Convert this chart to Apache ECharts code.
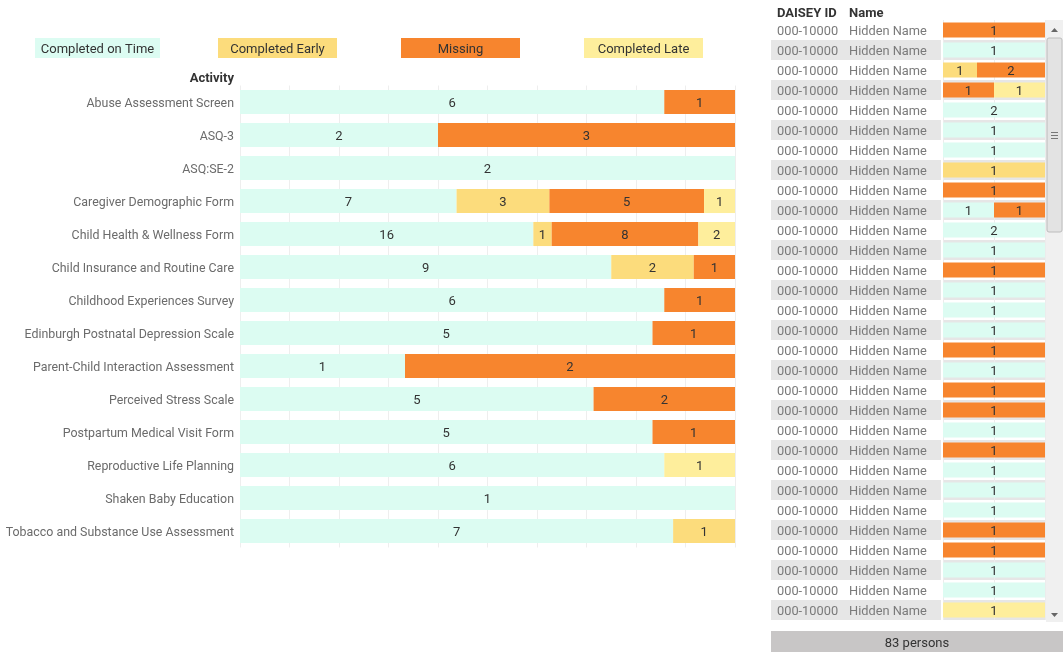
<!DOCTYPE html>
<html>
<head>
<meta charset="utf-8">
<script src="https://cdn.jsdelivr.net/npm/echarts@6/dist/echarts.min.js"></script>
<style>
  html, body { margin: 0; padding: 0; background: #fff; }
  #main { width: 1063px; height: 652px; }
</style>
</head>
<body>
<div id="main"></div>
<script>
// statuses, in stacking order
var statusNames = ['Completed on Time', 'Completed Early', 'Missing', 'Completed Late'];
var statusColors = ['#dcfcf2', '#fcdc7c', '#f7852e', '#feee9c'];

// activity chart (counts per status)
var activities = [
  'Abuse Assessment Screen', 'ASQ-3', 'ASQ:SE-2', 'Caregiver Demographic Form',
  'Child Health & Wellness Form', 'Child Insurance and Routine Care',
  'Childhood Experiences Survey', 'Edinburgh Postnatal Depression Scale',
  'Parent-Child Interaction Assessment', 'Perceived Stress Scale',
  'Postpartum Medical Visit Form', 'Reproductive Life Planning',
  'Shaken Baby Education', 'Tobacco and Substance Use Assessment'
];
var actOnTime  = [6, 2, 2, 7, 16, 9, 6, 5, 1, 5, 5, 6, 1, 7];
var actEarly   = [0, 0, 0, 3, 1, 2, 0, 0, 0, 0, 0, 0, 0, 1];
var actMissing = [1, 3, 0, 5, 8, 1, 1, 1, 2, 2, 1, 0, 0, 0];
var actLate    = [0, 0, 0, 1, 2, 0, 0, 0, 0, 0, 0, 1, 0, 0];

// person table (first 30 visible rows)
var personIds = [];
var personNames = [];
for (var i = 0; i < 30; i++) { personIds.push('000-10000'); personNames.push('Hidden Name'); }
var perOnTime  = [0,1,0,0,2,1,1,0,0,1,2,1,0,1,1,1,0,1,0,0,1,0,1,1,1,0,0,1,1,0];
var perEarly   = [0,0,1,0,0,0,0,1,0,0,0,0,0,0,0,0,0,0,0,0,0,0,0,0,0,0,0,0,0,0];
var perMissing = [1,0,2,1,0,0,0,0,1,1,0,0,1,0,0,0,1,0,1,1,0,1,0,0,0,1,1,0,0,0];
var perLate    = [0,0,0,1,0,0,0,0,0,0,0,0,0,0,0,0,0,0,0,0,0,0,0,0,0,0,0,0,0,1];
var personCount = 83;

var FONT = 'Roboto';
var PAD = [4, 0, 0, 0]; // nudge text down a little, like tableau's baseline

function rowTotal(cols, idx) {
  var tot = 0;
  cols.forEach(function (c) { tot += c[idx]; });
  return tot;
}

function buildSeries(cols, xi, yi, stack) {
  return cols.map(function (col, s) {
    return {
      name: statusNames[s],
      type: 'bar',
      stack: stack,
      xAxisIndex: xi,
      yAxisIndex: yi,
      barCategoryGap: xi === 0 ? '27%' : '25%',
      itemStyle: { color: statusColors[s] },
      label: {
        show: true,
        position: 'inside',
        offset: [0, 2],
        color: '#333',
        fontFamily: FONT,
        fontSize: 13,
        formatter: function (p) { return p.data.count ? String(p.data.count) : ''; }
      },
      silent: true,
      data: col.map(function (v, k) {
        return { value: v / rowTotal(cols, k) * 100, count: v };
      })
    };
  });
}

var actCols = [actOnTime, actEarly, actMissing, actLate];
var perCols = [perOnTime, perEarly, perMissing, perLate];
var rowKeys = personIds.map(function (d, k) { return 'r' + k; });

var chart = echarts.init(document.getElementById('main'));

var graphics = [];
statusNames.forEach(function (n, s) {
  var x = 35 + s * 183, w = s === 0 ? 125 : 119;
  graphics.push({
    type: 'rect', shape: { x: x, y: 38, width: w, height: 20 },
    style: { fill: statusColors[s] }, silent: true
  });
  graphics.push({
    type: 'text', x: x + w / 2, y: 50,
    style: { text: n, fill: '#333', font: '13px ' + FONT, align: 'center', verticalAlign: 'middle' }
  });
});
graphics.push(
  { type: 'text', x: 234, y: 79, style: { text: 'Activity', fill: '#333', font: 'bold 13px ' + FONT, align: 'right', verticalAlign: 'middle' } },
  { type: 'text', x: 777, y: 14, style: { text: 'DAISEY ID', fill: '#333', font: 'bold 13px ' + FONT, verticalAlign: 'middle' } },
  { type: 'text', x: 849, y: 14, style: { text: 'Name', fill: '#333', font: 'bold 13px ' + FONT, verticalAlign: 'middle' } },
  // scrollbar
  { type: 'rect', shape: { x: 1046, y: 20, width: 17, height: 602 }, style: { fill: '#f0f0f0' } },
  { type: 'rect', shape: { x: 1047, y: 38, width: 15, height: 194, r: 2 }, style: { fill: '#e3e3e3', stroke: '#bcbcbc', lineWidth: 1 } },
  { type: 'polygon', shape: { points: [[1051, 32], [1058, 32], [1054.5, 28]] }, style: { fill: '#666' } },
  { type: 'polygon', shape: { points: [[1051, 613], [1058, 613], [1054.5, 617]] }, style: { fill: '#666' } },
  { type: 'rect', shape: { x: 1051, y: 132, width: 7, height: 1 }, style: { fill: '#777' } },
  { type: 'rect', shape: { x: 1051, y: 135, width: 7, height: 1 }, style: { fill: '#777' } },
  { type: 'rect', shape: { x: 1051, y: 138, width: 7, height: 1 }, style: { fill: '#777' } },
  // footer
  { type: 'rect', shape: { x: 771, y: 631, width: 292, height: 21 }, style: { fill: '#c8c6c6' } },
  { type: 'text', x: 917, y: 644, style: { text: personCount + ' persons', fill: '#333', font: '13px ' + FONT, align: 'center', verticalAlign: 'middle' } }
);

var bandColors = ['#ffffff', '#e6e6e6'];

var option = {
  backgroundColor: '#fff',
  animation: false,
  graphic: graphics,
  grid: [
    { left: 240, top: 85.5, width: 495, height: 462 },
    { left: 771, top: 20, width: 170, height: 600 },
    { left: 943, top: 20, width: 102, height: 600 }
  ],
  xAxis: [
    {
      gridIndex: 0, type: 'value', min: 0, max: 100, interval: 10,
      axisLabel: { show: false }, axisLine: { show: false }, axisTick: { show: false },
      splitLine: { show: true, lineStyle: { color: '#eeeeee', width: 1 } }
    },
    {
      gridIndex: 1, type: 'value', min: 0, max: 1, show: false
    },
    {
      gridIndex: 2, type: 'value', min: 0, max: 100, interval: 50,
      axisLabel: { show: false }, axisLine: { show: false }, axisTick: { show: false },
      splitLine: { show: true, lineStyle: { color: '#ececec', width: 1 } }
    }
  ],
  yAxis: [
    {
      gridIndex: 0, type: 'category', data: activities, inverse: true,
      axisLine: { show: false }, axisTick: { show: false },
      axisLabel: {
        margin: 6, padding: PAD,
        formatter: function (v) { return '{a|' + v + '}'; },
        rich: { a: { color: '#6b6b6b', fontFamily: FONT, fontSize: 12.4 } }
      }
    },
    {
      gridIndex: 1, type: 'category', data: rowKeys, inverse: true,
      axisLine: { show: false }, axisTick: { show: false },
      splitArea: { show: true, areaStyle: { color: bandColors } },
      axisLabel: {
        inside: true, margin: 6, align: 'left', padding: PAD,
        formatter: function (v, k) { return '{id|' + personIds[k] + '}{nm|' + personNames[k] + '}'; },
        rich: {
          id: { width: 72, color: '#7a7a7a', fontFamily: FONT, fontSize: 12.8 },
          nm: { color: '#7a7a7a', fontFamily: FONT, fontSize: 12.8 }
        }
      }
    },
    {
      gridIndex: 2, type: 'category', data: rowKeys, inverse: true,
      axisLine: { show: false }, axisTick: { show: false }, axisLabel: { show: false },
      splitArea: { show: true, areaStyle: { color: bandColors } }
    }
  ],
  series: buildSeries(actCols, 0, 0, 'act').concat(buildSeries(perCols, 2, 2, 'per'))
};

chart.setOption(option);
</script>
</body>
</html>
